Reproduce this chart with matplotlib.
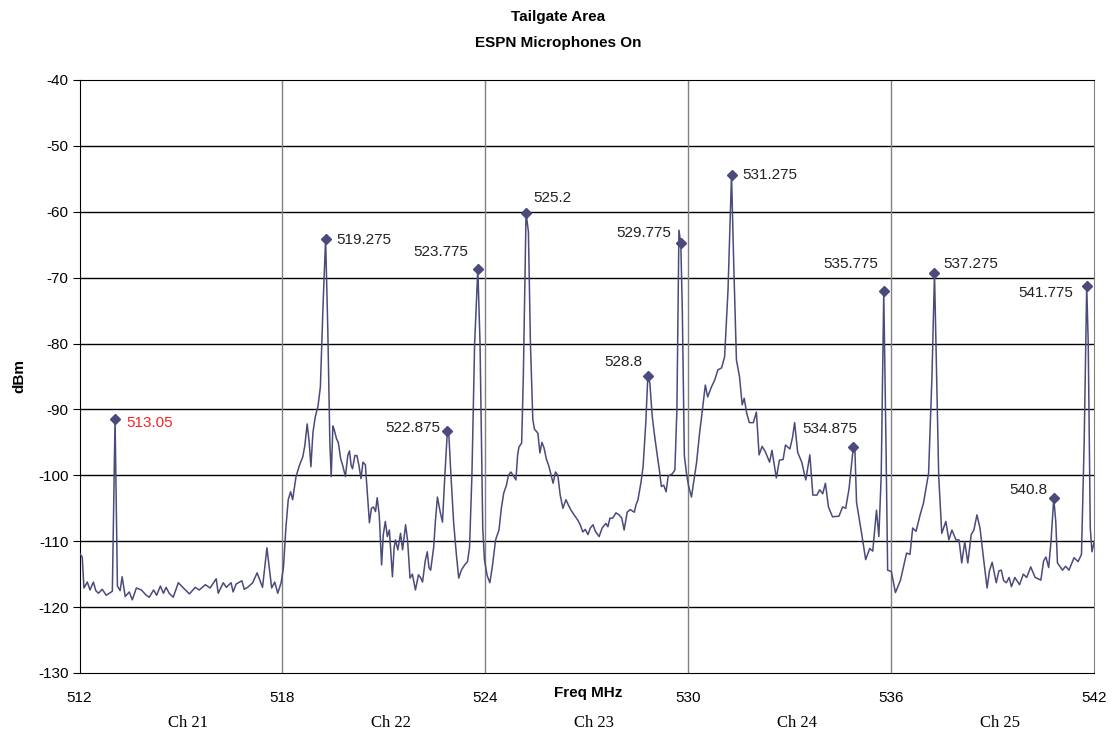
import matplotlib
matplotlib.use("Agg")
import matplotlib.pyplot as plt
from matplotlib.ticker import MultipleLocator

plt.rcParams['font.family'] = ['Liberation Sans', 'DejaVu Sans']
plt.rcParams['axes.unicode_minus'] = False

# spectrum trace, one list pair per TV channel
freq_ch21 = [512.00, 512.08, 512.13, 512.23, 512.31, 512.41, 512.48, 512.56, 512.67, 512.79,
             512.88, 512.97, 513.05, 513.12, 513.20, 513.26, 513.35, 513.47, 513.56, 513.68,
             513.83, 513.97, 514.06, 514.19, 514.28, 514.39, 514.48, 514.56, 514.65, 514.77,
             514.92, 515.07, 515.25, 515.42, 515.54, 515.72, 515.86, 516.04, 516.10, 516.25,
             516.34, 516.48, 516.54, 516.63, 516.80, 516.87, 516.97, 517.12, 517.25, 517.41,
             517.54, 517.68, 517.77, 517.86, 517.96]
dbm_ch21 = [-111.8, -112.4, -117.1, -116.2, -117.4, -116.2, -117.5, -117.9, -117.3, -118.2,
            -117.9, -117.6, -91.4, -116.8, -117.5, -115.4, -118.4, -117.7, -118.9, -117.1,
            -117.4, -118.2, -118.5, -117.4, -118.2, -116.8, -117.9, -117.0, -117.9, -118.5,
            -116.3, -117.1, -118.0, -117.0, -117.4, -116.6, -117.1, -115.7, -117.9, -116.3,
            -117.0, -116.3, -117.7, -116.5, -116.0, -117.3, -117.0, -116.3, -114.8, -117.0,
            -111.0, -117.1, -116.2, -117.9, -116.3]

freq_ch22 = [518.03, 518.10, 518.17, 518.24, 518.30, 518.40, 518.50, 518.60, 518.66, 518.73,
             518.79, 518.84, 518.90, 518.97, 519.05, 519.12, 519.20, 519.275, 519.34, 519.40,
             519.44, 519.49, 519.53, 519.60, 519.65, 519.72, 519.78, 519.86, 519.93, 519.98,
             520.03, 520.07, 520.14, 520.20, 520.26, 520.32, 520.38, 520.45, 520.57, 520.63,
             520.69, 520.75, 520.80, 520.86, 520.93, 520.98, 521.04, 521.10, 521.16, 521.25,
             521.30, 521.34, 521.41, 521.49, 521.55, 521.64, 521.70, 521.77, 521.84, 521.93,
             522.02, 522.08, 522.14, 522.22, 522.28, 522.33, 522.38, 522.47, 522.52, 522.58,
             522.66, 522.73, 522.80, 522.875, 522.92, 522.98, 523.06, 523.14, 523.21, 523.28,
             523.32, 523.40, 523.47, 523.53, 523.60, 523.68, 523.775, 523.84, 523.92, 523.97]
dbm_ch22 = [-113.9, -108.0, -103.7, -102.5, -103.7, -100.2, -98.5, -97.2, -95.5, -92.2,
            -95.0, -98.7, -93.5, -91.1, -89.5, -86.6, -74.0, -64.1, -78.0, -95.0,
            -100.2, -92.5, -93.1, -94.5, -95.0, -97.5, -98.5, -100.2, -97.0, -96.3,
            -98.5, -99.0, -97.0, -97.0, -98.5, -100.5, -98.0, -98.4, -107.2, -105.0,
            -104.8, -105.5, -103.4, -106.0, -113.6, -109.0, -107.0, -109.3, -108.3, -115.4,
            -111.0, -109.8, -111.3, -108.8, -111.3, -107.5, -110.0, -115.6, -115.0, -117.4,
            -115.1, -115.5, -116.2, -113.0, -111.6, -114.0, -114.4, -110.9, -107.0, -103.3,
            -105.5, -107.1, -100.0, -93.2, -94.0, -100.0, -107.2, -112.0, -115.6, -114.5,
            -114.1, -113.5, -113.1, -110.9, -100.0, -80.0, -68.7, -80.0, -108.0, -112.8]

freq_ch23 = [524.05, 524.13, 524.20, 524.30, 524.40, 524.47, 524.54, 524.62, 524.68, 524.75,
             524.82, 524.90, 524.95, 524.99, 525.07, 525.12, 525.20, 525.27, 525.33, 525.40,
             525.45, 525.55, 525.61, 525.67, 525.73, 525.80, 525.88, 526.00, 526.07, 526.14,
             526.21, 526.29, 526.38, 526.45, 526.53, 526.62, 526.73, 526.80, 526.88, 526.95,
             527.03, 527.10, 527.18, 527.25, 527.36, 527.45, 527.56, 527.62, 527.68, 527.76,
             527.86, 527.95, 528.03, 528.10, 528.19, 528.28, 528.40, 528.45, 528.51, 528.60,
             528.66, 528.74, 528.80, 528.86, 528.93, 528.99, 529.08, 529.15, 529.20, 529.27,
             529.34, 529.40, 529.43, 529.52, 529.60, 529.66, 529.72, 529.775, 529.82, 529.88,
             529.94, 530.00]
dbm_ch23 = [-115.2, -116.3, -114.0, -109.8, -108.3, -105.0, -102.7, -101.5, -100.0, -99.5,
            -100.0, -100.7, -97.0, -95.7, -95.1, -85.0, -60.2, -63.0, -80.0, -91.5,
            -93.0, -93.6, -96.6, -95.0, -95.8, -97.5, -98.7, -101.2, -99.5, -100.0,
            -103.0, -105.0, -103.7, -104.5, -105.3, -106.0, -106.8, -107.5, -108.6, -108.2,
            -109.0, -108.0, -107.5, -108.5, -109.3, -108.0, -107.3, -107.8, -106.5, -106.5,
            -105.7, -106.0, -106.5, -108.3, -105.6, -105.2, -105.6, -104.5, -103.7, -101.0,
            -98.7, -92.0, -85.0, -86.0, -91.0, -93.6, -97.0, -99.5, -101.7, -101.5,
            -102.5, -100.2, -100.0, -99.8, -99.2, -90.0, -62.8, -64.8, -75.0, -97.0,
            -99.6, -101.5]

freq_ch24 = [530.09, 530.24, 530.33, 530.39, 530.50, 530.57, 530.68, 530.78, 530.87, 530.98,
             531.07, 531.17, 531.275, 531.34, 531.42, 531.51, 531.59, 531.65, 531.72, 531.80,
             531.92, 532.01, 532.09, 532.18, 532.28, 532.40, 532.47, 532.60, 532.69, 532.80,
             532.87, 533.00, 533.08, 533.14, 533.23, 533.35, 533.47, 533.59, 533.68, 533.80,
             533.88, 533.97, 534.05, 534.14, 534.26, 534.45, 534.56, 534.65, 534.75, 534.875,
             534.92, 534.97, 535.12, 535.24, 535.36, 535.45, 535.56, 535.63, 535.70, 535.775,
             535.84, 535.89, 536.00]
dbm_ch24 = [-103.3, -98.1, -93.6, -91.1, -86.3, -88.1, -86.6, -85.5, -84.0, -83.7,
            -82.0, -72.0, -54.4, -68.0, -82.5, -85.0, -89.3, -88.3, -90.5, -92.0,
            -92.0, -90.4, -96.9, -95.6, -96.5, -98.0, -96.2, -100.4, -97.7, -97.6,
            -95.4, -96.0, -94.2, -92.0, -96.5, -98.0, -100.7, -96.9, -103.0, -103.0,
            -102.2, -102.8, -101.2, -104.8, -106.3, -106.2, -104.8, -105.0, -102.0, -95.7,
            -95.8, -104.1, -108.8, -112.8, -111.1, -111.5, -105.3, -109.3, -100.0, -72.1,
            -95.0, -114.4, -114.6]

freq_ch25 = [536.12, 536.27, 536.45, 536.55, 536.63, 536.73, 536.85, 536.95, 537.10, 537.20,
             537.275, 537.35, 537.40, 537.49, 537.61, 537.70, 537.79, 537.91, 538.00, 538.08,
             538.17, 538.26, 538.36, 538.44, 538.53, 538.62, 538.74, 538.83, 538.90, 538.98,
             539.10, 539.18, 539.25, 539.32, 539.40, 539.48, 539.55, 539.65, 539.79, 539.90,
             540.00, 540.12, 540.25, 540.42, 540.50, 540.57, 540.65, 540.72, 540.80, 540.86,
             540.91, 541.06, 541.15, 541.25, 541.40, 541.52, 541.62, 541.70, 541.775, 541.82,
             541.88, 541.93, 542.00]
dbm_ch25 = [-117.8, -115.9, -111.8, -112.0, -108.0, -108.5, -106.0, -104.2, -99.7, -85.0,
            -69.3, -88.0, -100.2, -108.8, -107.0, -109.8, -108.3, -109.8, -109.8, -113.3,
            -110.1, -113.3, -109.0, -108.3, -106.0, -108.0, -113.3, -117.1, -114.5, -113.2,
            -116.3, -114.5, -114.4, -116.0, -116.3, -115.5, -116.9, -115.5, -116.6, -115.0,
            -115.5, -113.9, -115.5, -115.9, -113.0, -112.4, -114.0, -110.0, -103.5, -107.0,
            -113.3, -114.4, -113.8, -114.4, -112.5, -113.1, -112.0, -95.0, -71.2, -80.0,
            -108.0, -111.6, -110.0]

# labelled carriers
peak_freq = [513.05, 519.275, 522.875, 523.775, 525.2, 528.8, 529.775,
             531.275, 534.875, 535.775, 537.275, 540.8, 541.775]
peak_dbm = [-91.4, -64.1, -93.2, -68.7, -60.2, -85.0, -64.8,
            -54.4, -95.7, -72.1, -69.3, -103.5, -71.2]
peak_labels = ['513.05', '519.275', '522.875', '523.775', '525.2', '528.8', '529.775',
               '531.275', '534.875', '535.775', '537.275', '540.8', '541.775']
# label offsets in pixels and alignment
label_offsets = [(11, -4, 'left'), (11, -1, 'left'), (-7, 3, 'right'), (-10, 17, 'right'),
                 (7, 15, 'left'), (-5, 14, 'right'), (-10, 10, 'right'), (11, 0, 'left'),
                 (4, 18, 'right'), (-6, 27, 'right'), (9, 9, 'left'), (-6, 8, 'right'),
                 (-13, -7, 'right')]

channel_edges = [512, 518, 524, 530, 536, 542]
channel_names = ['Ch 21', 'Ch 22', 'Ch 23', 'Ch 24', 'Ch 25']

freq = freq_ch21 + freq_ch22 + freq_ch23 + freq_ch24 + freq_ch25
dbm = dbm_ch21 + dbm_ch22 + dbm_ch23 + dbm_ch24 + dbm_ch25

trace_color = '#4a4a7c'

fig = plt.figure(figsize=(11.17, 7.38), dpi=100)
ax = fig.add_axes([0.0712, 0.0881, 0.9085, 0.8035])

ax.plot(freq, dbm, color=trace_color, lw=1.1, zorder=3)
ax.plot(peak_freq, peak_dbm, ls='none', marker='D', ms=5, color=trace_color, zorder=4)

for f, d, lab, (dx, dy, ha) in zip(peak_freq, peak_dbm, peak_labels, label_offsets):
    ax.annotate(lab, (f, d), xytext=(dx, dy), textcoords='offset pixels',
                ha=ha, va='center', fontsize=11,
                color='#ff2020' if lab == '513.05' else '#222222', zorder=5)

ax.set_xlim(512, 542)
ax.set_ylim(-130, -40)
ax.set_xticks(channel_edges)
ax.yaxis.set_major_locator(MultipleLocator(10))
ax.tick_params(axis='x', length=0, pad=13, labelsize=11)
ax.tick_params(axis='y', length=5, direction='out', labelsize=11, pad=3)

# horizontal lines black, channel borders grey
for y in range(-120, -40, 10):
    ax.axhline(y, color='black', lw=1.0, zorder=1)
for x in channel_edges[1:-1]:
    ax.axvline(x, color='#808080', lw=1.0, zorder=1)
for side in ['left', 'top', 'bottom']:
    ax.spines[side].set_color('black')
ax.spines['right'].set_color('#808080')

ax.set_ylabel('dBm', fontsize=11, fontweight='bold', labelpad=8)
fig.text(0.5264, 0.061, 'Freq MHz', ha='center', va='center', fontsize=11, fontweight='bold')

for i, name in enumerate(channel_names):
    mid = (channel_edges[i] + channel_edges[i + 1]) / 2 + 0.2
    ax.annotate(name, (mid, 0), xycoords=('data', 'axes fraction'), xytext=(0, -50),
                textcoords='offset pixels', ha='center', va='center',
                fontsize=12, family='Liberation Serif')

fig.text(0.5, 0.977, 'Tailgate Area', ha='center', va='center', fontsize=11, fontweight='bold')
fig.text(0.5, 0.942, 'ESPN Microphones On', ha='center', va='center', fontsize=11, fontweight='bold')

fig.savefig('out.png', dpi=100)
